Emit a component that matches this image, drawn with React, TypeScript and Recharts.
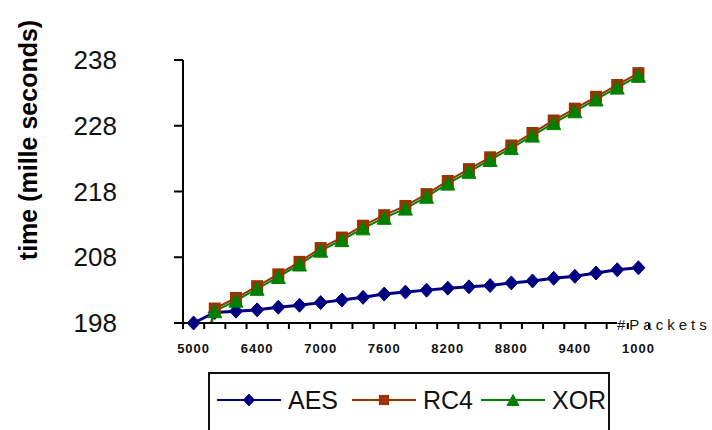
import React from 'react';
import { LineChart, Line, XAxis, YAxis, Legend } from 'recharts';

// categories: packet-count points (index along the x axis)
const pointIndex = [0, 1, 2, 3, 4, 5, 6, 7, 8, 9, 10, 11, 12, 13, 14, 15, 16, 17, 18, 19, 20, 21];

// series values (milliseconds)
const aesValues = [198.0, 199.6, 199.8, 200.0, 200.4, 200.7, 201.1, 201.5, 201.9, 202.4, 202.7, 203.0, 203.3, 203.5, 203.7, 204.1, 204.4, 204.8, 205.1, 205.6, 206.1, 206.4];
const rc4Values = [188.0, 200.2, 201.8, 203.6, 205.4, 207.3, 209.4, 211.0, 212.8, 214.4, 215.8, 217.6, 219.6, 221.4, 223.2, 225.0, 226.9, 228.8, 230.6, 232.4, 234.2, 236.0];
const xorValues = [187.6, 199.8, 201.4, 203.2, 205.0, 206.9, 209.0, 210.6, 212.4, 214.0, 215.4, 217.2, 219.2, 221.0, 222.8, 224.6, 226.5, 228.4, 230.2, 232.0, 233.8, 235.6];

// tick labels
const yTicks = [198, 208, 218, 228, 238];
const xTickLabels = ['5000', '6400', '7000', '7600', '8200', '8800', '9400', '1000'];
const xLabelStep = 3;

const seriesNames = ['AES', 'RC4', 'XOR'];
const seriesColors = ['#000080', '#993300', '#008000'];

const data = pointIndex.map((i) => ({ idx: i, AES: aesValues[i], RC4: rc4Values[i], XOR: xorValues[i] }));

const halfTicks = [...pointIndex.map((i) => i - 0.5), pointIndex.length - 0.5];
const labelTicks = xTickLabels.map((_, k) => k * xLabelStep);
const xTicks = [...halfTicks, ...labelTicks].sort((a, b) => a - b);

const FONT = '"Liberation Sans", Arial, sans-serif';

const diamondPath = (cx: number, cy: number, w = 6.5, h = 7) =>
  `M${cx},${cy - h}L${cx + w},${cy}L${cx},${cy + h}L${cx - w},${cy}Z`;
const trianglePath = (cx: number, cy: number, w = 7, h = 6.5) =>
  `M${cx},${cy - h}L${cx + w},${cy + h}L${cx - w},${cy + h}Z`;

const drawMarker = (k: number, cx: number, cy: number, color: string, key?: string, s = 1) => {
  if (k === 0) return <path key={key} d={diamondPath(cx, cy, 6.5 * s, 7 * s)} fill={color} stroke={color} strokeWidth={1} />;
  if (k === 1) return <rect key={key} x={cx - 6 * s} y={cy - 6 * s} width={12 * s} height={12 * s} fill={color} />;
  return <path key={key} d={trianglePath(cx, cy, 7 * s, 6.5 * s)} fill={color} stroke={color} strokeWidth={1} />;
};

const makeDot = (k: number) => (props: any) => {
  const { cx, cy, index } = props;
  if (cx == null || cy == null || isNaN(cx) || isNaN(cy)) return <g key={`d${k}-${index}`} />;
  return drawMarker(k, cx, cy, seriesColors[k], `d${k}-${index}`);
};

const XTick = (props: any) => {
  const { x, y, payload } = props;
  const v = payload.value as number;
  if (Math.abs(v % 1) > 0.01) {
    return <rect x={x - 1} y={y} width={2} height={6} fill="#000000" />;
  }
  if (v % xLabelStep !== 0) return <g />;
  const label = xTickLabels[Math.round(v / xLabelStep)];
  return (
    <text x={x} y={y + 25} textAnchor="middle" dominantBaseline="central" fontSize={13} fontWeight="bold"
      letterSpacing={1} fontFamily={FONT} fill="#111">
      {label}
    </text>
  );
};

const YTick = (props: any) => {
  const { x, y, payload } = props;
  return (
    <text x={x - 57} y={y} textAnchor="end" dominantBaseline="central" fontSize={26} fontFamily={FONT} fill="#111">
      {payload.value}
    </text>
  );
};

const YLabel = () => {
  const cx = 28;
  const cy = 140;
  return (
    <text x={cx} y={cy} transform={`rotate(-90, ${cx}, ${cy})`} textAnchor="middle" dominantBaseline="central"
      fontSize={25} fontWeight="bold" fontFamily={FONT} fill="#000">
      time (mille seconds)
    </text>
  );
};

const XLabel = (props: any) => {
  const vb = props.viewBox || { x: 183, y: 323, width: 466 };
  const x0 = vb.x + vb.width - 32;
  const y0 = vb.y;
  return (
    <g>
      <rect x={x0} y={y0 - 9} width={120} height={17} fill="#fff" />
      <text x={x0} y={y0 + 1} dominantBaseline="central" fontSize={15} letterSpacing={4} fontFamily={FONT} fill="#111">
        #Packets
      </text>
    </g>
  );
};

const legendOffsets = [9, 144, 273];

const renderLegend = (props: any) => {
  const payload = props.payload || [];
  return (
    <svg width={402} height={70} style={{ display: 'block' }}>
      <rect x={1} y={1} width={400} height={90} fill="#fff" stroke="#111" strokeWidth={2} />
      {payload.map((entry: any, i: number) => {
        const k = seriesNames.indexOf(entry.value);
        const x0 = legendOffsets[i];
        const color = seriesColors[k];
        return (
          <g key={entry.value}>
            <line x1={x0} x2={x0 + 64} y1={28} y2={28} stroke={color} strokeWidth={2} />
            {drawMarker(k, x0 + 32, 28, color, undefined, 0.85)}
            <text x={x0 + 71} y={28} dominantBaseline="central" fontSize={25} fontFamily={FONT} fill="#111">
              {entry.value}
            </text>
          </g>
        );
      })}
    </svg>
  );
};

export default function App() {
  return (
    <div style={{ position: 'absolute', left: 0, top: 0, width: 712, height: 430, background: '#fff', overflow: 'hidden' }}>
      <LineChart width={712} height={430} data={data} margin={{ top: 60, right: 63, bottom: 0, left: 0 }}>
        <XAxis
          dataKey="idx"
          type="number"
          domain={[-0.5, pointIndex.length - 0.5]}
          ticks={xTicks}
          interval={0}
          tickSize={0}
          tickMargin={0}
          tickLine={false}
          tick={<XTick />}
          axisLine={{ stroke: '#000', strokeWidth: 2 }}
          height={107}
          label={{ content: (p: any) => <XLabel {...p} /> }}
        />
        <YAxis
          yAxisId="main"
          orientation="left"
          type="number"
          domain={[198, 238]}
          allowDataOverflow
          ticks={yTicks}
          interval={0}
          width={183}
          tickSize={9}
          tickMargin={0}
          tickLine={{ stroke: '#000', strokeWidth: 2 }}
          axisLine={{ stroke: '#000', strokeWidth: 2 }}
          tick={<YTick />}
          label={{ content: () => <YLabel /> }}
        />
        <YAxis yAxisId="aes" orientation="right" type="number" domain={[198, 238]} hide />
        <Legend
          layout="horizontal"
          verticalAlign="middle"
          align="center"
          wrapperStyle={{ left: 208, top: 372, width: 402, height: 70 }}
          content={renderLegend}
        />
        <Line yAxisId="aes" type="linear" dataKey="AES" name="AES" stroke={seriesColors[0]} strokeWidth={3}
          dot={makeDot(0)} activeDot={false} isAnimationActive={false} />
        <Line yAxisId="main" type="linear" dataKey="RC4" name="RC4" stroke={seriesColors[1]} strokeWidth={2}
          dot={makeDot(1)} activeDot={false} isAnimationActive={false} />
        <Line yAxisId="main" type="linear" dataKey="XOR" name="XOR" stroke={seriesColors[2]} strokeWidth={2}
          dot={makeDot(2)} activeDot={false} isAnimationActive={false} />
      </LineChart>
    </div>
  );
}
